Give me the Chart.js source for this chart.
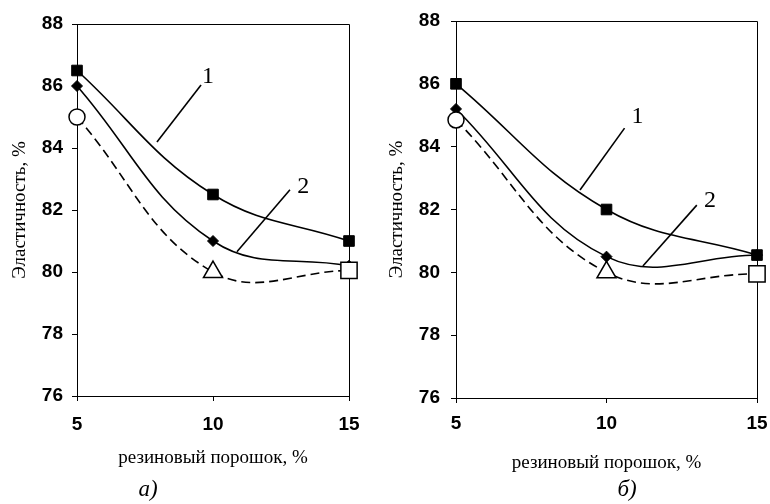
<!DOCTYPE html>
<html><head><meta charset="utf-8">
<script src="https://cdn.jsdelivr.net/npm/chart.js@4.4.1/dist/chart.umd.min.js"></script>
<style>
html,body{margin:0;padding:0;background:#fff;}
#wrap{position:relative;width:770px;height:504px;overflow:hidden;background:#fff;}
.panel{position:absolute;top:0;width:385px;height:504px;}
</style></head><body>
<div id="wrap">
<div class="panel" style="left:0"><canvas id="cA" width="385" height="504"></canvas></div>
<div class="panel" style="left:385px"><canvas id="cB" width="385" height="504"></canvas></div>
</div>
<script>
// ---- data ----
const rubberPowder = [5, 10, 15];
const xTicks = [5, 10, 15];
const yTicks = [76, 78, 80, 82, 84, 86, 88];
// panel а)
const a_curve1 = [86.5, 82.5, 81.0];
const a_curve2 = [86.0, 81.0, 80.2];
const a_ref    = [85.0, 80.0, 80.05];
// panel б)
const b_curve1 = [86.0, 82.0, 80.55];
const b_curve2 = [85.2, 80.5, 80.55];
const b_ref    = [84.85, 80.0, 79.95];
const yTitle = 'Эластичность, %';
const xTitle = 'резиновый порошок, %';
const panelLabels = ['а)', 'б)'];
const curveLabels = ['1', '2'];
// callouts (label "1","2" with leader lines), in data units: [x0,y0,x1,y1,textX,textY]
const a_callouts = [[7.94, 84.19, 9.56, 86.03, 9.82, 86.3], [10.88, 80.65, 12.83, 82.65, 13.32, 82.75]];
const b_callouts = [[9.12, 82.62, 10.6, 84.59, 11.03, 84.95], [11.21, 80.2, 13.0, 82.14, 13.44, 82.27]];

const refMarkers = ['circle', 'triangle', 'rect'];

function pts(vals) { return rubberPowder.map((x, i) => ({x: x, y: vals[i]})); }

const framePlugin = {
  id: 'frame',
  beforeDatasetsDraw(chart) {
    const a = chart.chartArea, ctx = chart.ctx;
    ctx.save();
    ctx.strokeStyle = '#000'; ctx.lineWidth = 1;
    ctx.beginPath();
    ctx.moveTo(Math.round(a.left) + 0.5, Math.round(a.top) + 0.5);
    ctx.lineTo(Math.round(a.right) + 0.5, Math.round(a.top) + 0.5);
    ctx.lineTo(Math.round(a.right) + 0.5, Math.round(a.bottom) + 0.5);
    ctx.stroke();
    ctx.restore();
  }
};
const calloutPlugin = {
  id: 'callouts',
  afterDatasetsDraw(chart, args, opts) {
    const ctx = chart.ctx, xs = chart.scales.x, ys = chart.scales.y;
    ctx.save();
    ctx.strokeStyle = '#000'; ctx.lineWidth = 1.6; ctx.fillStyle = '#000';
    ctx.font = '24px "Liberation Serif", "Times New Roman", serif';
    ctx.textAlign = 'center'; ctx.textBaseline = 'middle';
    opts.items.forEach((c, i) => {
      ctx.beginPath();
      ctx.moveTo(xs.getPixelForValue(c[0]), ys.getPixelForValue(c[1]));
      ctx.lineTo(xs.getPixelForValue(c[2]), ys.getPixelForValue(c[3]));
      ctx.stroke();
      ctx.fillText(curveLabels[i], xs.getPixelForValue(c[4]), ys.getPixelForValue(c[5]));
    });
    ctx.font = 'italic 23px "Liberation Serif", "Times New Roman", serif';
    ctx.fillText(opts.label, opts.labelX, opts.labelY);
    ctx.restore();
  }
};

function makePanel(id, c1, c2, ref, callouts, label, G) {
  new Chart(document.getElementById(id), {
    type: 'line',
    data: {
      datasets: [
        { data: pts(ref), borderColor: '#000', borderWidth: 1.6, borderDash: [9, 5], tension: 0.4, fill: false, clip: false,
          pointStyle: refMarkers, pointRadius: [8, 11, 11.5], pointBackgroundColor: '#fff',
          pointBorderColor: '#000', pointBorderWidth: 1.5 },
        { data: pts(c1), borderColor: '#000', borderWidth: 1.6, tension: 0.4, fill: false, clip: false,
          pointStyle: 'rect', pointRadius: 7.5, pointBackgroundColor: '#000', pointBorderColor: '#000', pointBorderWidth: 1 },
        { data: pts(c2), borderColor: '#000', borderWidth: 1.6, tension: 0.4, fill: false, clip: false,
          pointStyle: 'rectRot', pointRadius: 5.5, pointBackgroundColor: '#000', pointBorderColor: '#000', pointBorderWidth: 1 }
      ]
    },
    options: {
      responsive: false, animation: false, devicePixelRatio: 1,
      layout: { padding: { top: G.top, right: G.right, left: 0, bottom: 0 } },
      plugins: { legend: { display: false }, tooltip: { enabled: false },
        callouts: { items: callouts, label: label, labelX: G.labelX, labelY: G.labelY } },
      scales: {
        x: {
          type: 'linear', min: 5, max: 15,
          afterBuildTicks: s => { s.ticks = xTicks.map(v => ({ value: v })); },
          afterFit: s => { s.height = G.xH; s.paddingLeft = 0; s.paddingRight = 0; },
          ticks: { font: { family: '"Liberation Sans", Arial, sans-serif', size: 19, weight: 'bold' }, color: '#000', padding: G.xPad, maxRotation: 0, autoSkip: false },
          grid: { drawOnChartArea: false, drawTicks: true, tickLength: 5, color: '#000', lineWidth: 1 },
          border: { display: true, color: '#000', width: 1 },
          title: { display: true, text: xTitle, color: '#000', font: { family: '"Liberation Serif", "Times New Roman", serif', size: 19 }, padding: { top: 0, bottom: G.xTitlePb } }
        },
        y: {
          type: 'linear', min: 76, max: 88,
          afterBuildTicks: s => { s.ticks = yTicks.map(v => ({ value: v })); },
          afterFit: s => { s.width = G.yW; s.paddingTop = 0; s.paddingBottom = 0; },
          ticks: { font: { family: '"Liberation Sans", Arial, sans-serif', size: 19, weight: 'bold' }, color: '#000', padding: G.yPad },
          grid: { drawOnChartArea: false, drawTicks: true, tickLength: 5, color: '#000', lineWidth: 1 },
          border: { display: true, color: '#000', width: 1 },
          title: { display: true, text: yTitle, color: '#000', font: { family: '"Liberation Serif", "Times New Roman", serif', size: 19 }, padding: { top: G.yTitlePt, bottom: 0 } }
        }
      }
    },
    plugins: [framePlugin, calloutPlugin]
  });
}

makePanel('cA', a_curve1, a_curve2, a_ref, a_callouts, panelLabels[0],
  { top: 24, right: 36, yW: 77, xH: 108, xPad: 12, yPad: 9, xTitlePb: 34.6, yTitlePt: 8.6, labelX: 148, labelY: 490 });
makePanel('cB', b_curve1, b_curve2, b_ref, b_callouts, panelLabels[1],
  { top: 21, right: 13, yW: 71, xH: 106, xPad: 9, yPad: 11, xTitlePb: 29.6, yTitlePt: 0.6, labelX: 242, labelY: 490 });
</script>
</body></html>
